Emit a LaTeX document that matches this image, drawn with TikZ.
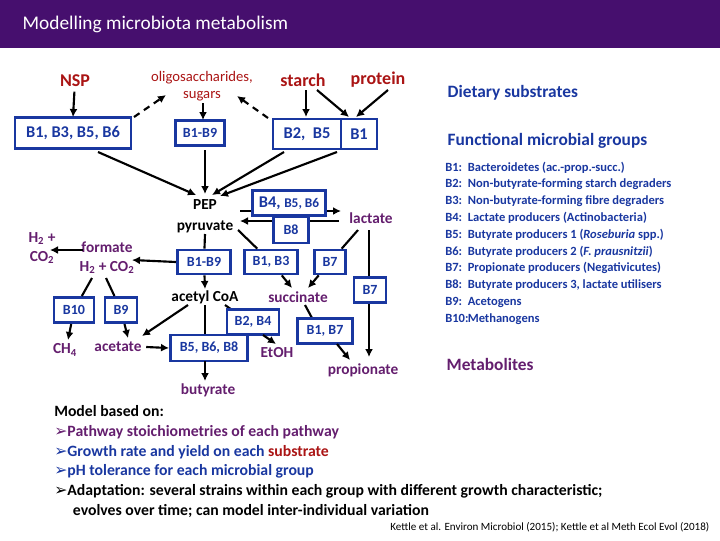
\documentclass[tikz,border=0pt]{standalone}
\usepackage{fontspec}
\setmainfont{Carlito}
\newfontfamily\djv{DejaVu Sans}
\usetikzlibrary{arrows.meta}
\definecolor{sub}{RGB}{170,20,20}
\definecolor{grp}{RGB}{25,55,160}
\definecolor{met}{RGB}{100,30,110}
\definecolor{bar}{RGB}{70,15,110}
\newcommand{\tri}{{\djv\char"27A2}}
\newcommand{\sbs}[1]{\textsubscript{#1}}
\begin{document}
\begin{tikzpicture}[x=0.75pt,y=-0.75pt,
 box/.style={draw=grp,line width=2pt,fill=white,text=grp,font=\bfseries\fontsize{12.3}{14}\selectfont,inner sep=0pt,anchor=center},
 sbox/.style={box,font=\bfseries\fontsize{10.5}{12}\selectfont},
 subs/.style={text=sub,font=\bfseries\fontsize{13.5}{15}\selectfont,align=center},
 smet/.style={text=met,font=\bfseries\fontsize{11.5}{13}\selectfont,align=center},
 blk/.style={text=black,font=\bfseries\fontsize{11.5}{13}\selectfont,align=center},
 ar/.style={-{Latex[length=6pt,width=6pt]},line width=1.6pt},
 ln/.style={line width=1.6pt},
 dsh/.style={ar,dashed,dash pattern=on 5pt off 4pt}]
\useasboundingbox (0,0) rectangle (720,540);
\fill[bar] (0,0) rectangle (720,48);
\node[anchor=west,text=white,font=\fontsize{14.5}{16}\selectfont] (title) at (18,24) {Modelling microbiota metabolism};
% substrates
\node[subs] (nsp) at (75,81) {NSP};
\node[text=sub,font=\fontsize{11}{12}\selectfont,align=center] (oli) at (202,86) {oligosaccharides,\\[1pt]sugars};
\node[subs] (starch) at (303,80) {starch};
\node[subs] (prot) at (378,80) {protein};
% top boxes
\node[box,minimum width=87pt,minimum height=23pt] (b1356) at (73,133) {B1, B3, B5, B6};
\node[sbox,minimum width=37pt,minimum height=19pt] (b19t) at (200,133) {B1-B9};
\node[box,minimum width=51pt,minimum height=22.5pt] (b25) at (307,134) {B2,\ \ B5};
\node[box,minimum width=27pt,minimum height=22.5pt] (b1) at (359,134) {B1};
\draw[ar] (nsp) -- (73,117);
\draw[dsh] (134,117) -- (166,95);
\draw[dsh] (268,118) -- (237,96);
\draw[ar] (203,103) -- (203,120);
\draw[ar] (306,90) -- (306,117);
\draw[ar] (317,90) -- (349,117);
\draw[ar] (388,90) -- (356,117);
% central
\node[blk] (pep) at (205,216) {PEP\\[3pt]pyruvate};
\node[smet] (lac) at (371,218) {lactate};
\draw[ar] (98,152) -- (196,195);
\draw[ar] (205,150) -- (205,194);
\draw[ar] (284,152) -- (212,195);
\draw[ar] (337,152) -- (220,196);
\draw[ar] (240,211) -- (341,211);
\draw[ar] (339,221) -- (240,221);
\node[box,minimum width=55pt,minimum height=19pt] (b456) at (289,203) {B4, {\fontsize{10}{11}\selectfont B5, B6}};
\node[sbox,minimum width=26pt,minimum height=19.5pt] (b8) at (291,230) {B8};
% middle row
\node[blk] (acoa) at (205,297) {acetyl CoA};
\node[smet] (succ) at (298,297) {succinate};
\node[sbox,minimum width=40pt,minimum height=18pt] (b19m) at (204,262) {B1-B9};
\node[sbox,minimum width=40pt,minimum height=18pt] (b13) at (271,262) {B1, B3};
\node[sbox,minimum width=23pt,minimum height=18pt] (b7s) at (330,262) {B7};
\draw[ln] (205,234) -- (b19m);
\draw[ar] (b19m) -- (205,289);
\draw[ln] (238,230) -- (b13);
\draw[ar] (b13) -- (292,288);
\draw[ln] (358,230) -- (b7s);
\draw[ar] (b7s) -- (308,288);
\draw[ar] (369,230) -- (369,357);
\node[sbox,minimum width=24pt,minimum height=19pt] (b7r) at (370,290) {B7};
% left
\node[smet] (h2) at (42,248) {H\sbs{2} +\\[1pt]CO\sbs{2}};
\node[smet] (form) at (107,258) {formate\\[1pt]H\sbs{2} + CO\sbs{2}};
\draw[ar] (b19m.west) -- (132,260);
\draw[ar] (83,250) -- (50,250);
\node[sbox,minimum width=30pt,minimum height=19pt] (b10) at (74,310) {B10};
\node[sbox,minimum width=24pt,minimum height=19pt] (b9) at (121,310) {B9};
\node[smet] (ch4) at (65,350) {CH\sbs{4}};
\node[smet] (acet) at (118,347) {acetate};
\draw[ln] (92,278) -- (b10);
\draw[ar] (b10) -- (68,340);
\draw[ln] (106,278) -- (b9);
\draw[ar] (b9) -- (128,338);
\draw[ar] (188,305) -- (142,336);
% bottom centre
\draw[ln] (205,305) -- (205,338);
\node[sbox,minimum width=58pt,minimum height=19.5pt] (b568) at (209,348) {B5, B6, B8};
\draw[ar] (205,361) -- (205,381);
\node[smet] (buty) at (208,390) {butyrate};
\draw[ar] (acet.east) -- (b568.west);
\draw[ln] (225,305) -- (235,312);
\node[sbox,minimum width=39pt,minimum height=19pt] (b24) at (253,322) {B2, B4};
\draw[ar] (263,335) -- (276,344);
\node[smet] (etoh) at (277,353) {EtOH};
\draw[ln] (305,305) -- (312,318);
\node[sbox,minimum width=41pt,minimum height=19pt] (b17) at (325,331) {B1, B7};
\draw[ar] (337,344) -- (350,360);
\node[smet] (prop) at (363,370) {propionate};
% right legend
\node[anchor=west,text=grp,font=\bfseries\fontsize{13}{15}\selectfont] (ds) at (443,93) {Dietary substrates};
\node[anchor=west,text=grp,font=\bfseries\fontsize{13}{15}\selectfont] (fg) at (443,141) {Functional microbial groups};
\node[anchor=north west,text=grp,font=\bfseries\fontsize{9.4}{12.6}\selectfont,inner sep=0pt] (leg) at (445,159) {%
\begin{tabular}{@{}l@{\ \ }l@{}}
B1: & Bacteroidetes (ac.-prop.-succ.)\\
B2: & Non-butyrate-forming starch degraders\\
B3: & Non-butyrate-forming fibre degraders\\
B4: & Lactate producers (Actinobacteria)\\
B5: & Butyrate producers 1 (\textit{Roseburia} spp.)\\
B6: & Butyrate producers 2 (\textit{F. prausnitzii})\\
B7: & Propionate producers (Negativicutes)\\
B8: & Butyrate producers 3, lactate utilisers\\
B9: & Acetogens\\
B10:\hspace{-6pt} & Methanogens
\end{tabular}};
\node[anchor=west,text=met,font=\bfseries\fontsize{13}{15}\selectfont] (mt) at (442,364) {Metabolites};
% bottom
\node[anchor=north west,font=\bfseries\fontsize{11.8}{14.9}\selectfont,align=left,inner sep=0pt] (mb) at (54,405) {%
Model based on:\\
{\color{met}\tri Pathway stoichiometries of each pathway}\\
{\color{grp}\tri Growth rate and yield on each {\color{sub}substrate}}\\
{\color{grp}\tri pH tolerance for each microbial group}\\
\tri Adaptation: several strains within each group with different growth characteristic;\\
\hspace{14pt}evolves over time; can model inter-individual variation};
\node[anchor=east,font=\fontsize{8.3}{9}\selectfont] (ref) at (714,527) {Kettle et al. Environ Microbiol (2015); Kettle et al Meth Ecol Evol (2018)};
\end{tikzpicture}
\end{document}
